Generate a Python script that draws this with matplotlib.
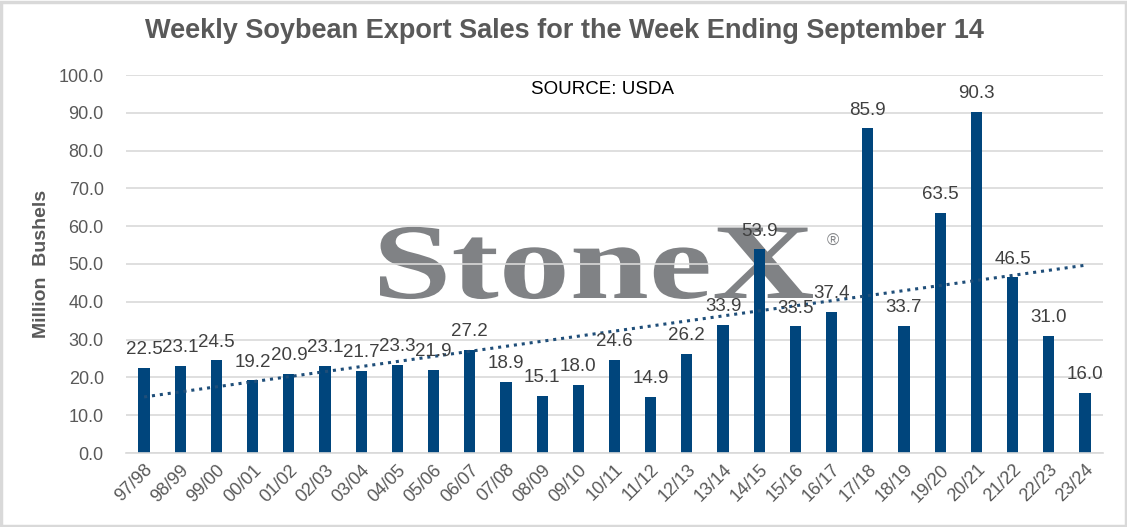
import numpy as np
import matplotlib
matplotlib.use('Agg')
import matplotlib.pyplot as plt
from matplotlib.textpath import TextPath
from matplotlib.patches import PathPatch, Rectangle
from matplotlib.font_manager import FontProperties
from matplotlib.transforms import Affine2D

plt.rcParams['font.family'] = ['Liberation Sans', 'DejaVu Sans']

seasons = ['97/98', '98/99', '99/00', '00/01', '01/02', '02/03', '03/04', '04/05', '05/06',
           '06/07', '07/08', '08/09', '09/10', '10/11', '11/12', '12/13', '13/14', '14/15',
           '15/16', '16/17', '17/18', '18/19', '19/20', '20/21', '21/22', '22/23', '23/24']
sales = [22.5, 23.1, 24.5, 19.2, 20.9, 23.1, 21.7, 23.3, 21.9, 27.2, 18.9, 15.1, 18.0, 24.6,
         14.9, 26.2, 33.9, 53.9, 33.5, 37.4, 85.9, 33.7, 63.5, 90.3, 46.5, 31.0, 16.0]
yticks = np.arange(0, 101, 10)

BAR = '#00457C'
GREY_TXT = '#595959'
GRID = '#D9D9D9'
W, H = 1127, 527

fig = plt.figure(figsize=(W / 100, H / 100), dpi=100)
ax = fig.add_axes([126 / W, 1 - 453 / H, 977 / W, 378 / H])

x = np.arange(len(seasons))
ax.bar(x, sales, width=0.31, color=BAR, zorder=2)
for xi, v in zip(x, sales):
    ax.annotate('%.1f' % v, (xi, v), xytext=(0, 7), textcoords='offset points',
                ha='center', va='bottom', fontsize=13.5, color='#404040', zorder=4)

# linear trend line
k, b = np.polyfit(x, sales, 1)
ax.plot(x, k * x + b, ls=(0, (1, 1.6)), lw=2.2, color='#1F4E79', zorder=3)

ax.set_xlim(-0.5, len(seasons) - 0.5)
ax.set_ylim(0, 100)
ax.set_yticks(yticks)
ax.set_yticklabels(['%.1f' % t for t in yticks])
ax.set_xticks(x)
ax.set_xticklabels(seasons, rotation=45, ha='right', rotation_mode='anchor')
ax.tick_params(axis='both', length=0, labelsize=13, labelcolor=GREY_TXT)
ax.tick_params(axis='x', pad=6)
ax.tick_params(axis='y', pad=16)
ax.set_axisbelow(True)
ax.yaxis.grid(True, color=GRID, lw=1.2)
for s in ['left', 'right', 'top']:
    ax.spines[s].set_visible(False)
ax.spines['bottom'].set_color(GRID)
ax.spines['bottom'].set_linewidth(1.2)
ax.set_ylabel('Million  Bushels', fontsize=14, fontweight='bold', color=GREY_TXT, labelpad=6)

# StoneX watermark (scaled text path, in pixel coordinates)
tp = TextPath((0, 0), 'StoneX', size=1,
              prop=FontProperties(family='Liberation Serif', weight='bold'))
ext = tp.get_extents()
sx = 433 / ext.width
sy = 71 / 0.66
tr = (Affine2D().translate(-ext.x0, 0).scale(sx / 100, sy / 100)
      .translate(380 / 100, (H - 298) / 100) + fig.dpi_scale_trans)
ax.add_patch(PathPatch(tp, transform=tr, facecolor='#808285', edgecolor='none',
                       zorder=0.4, clip_on=False))
fig.text(833 / W, 1 - 241 / H, '\u00ae', fontsize=12, color='#808285',
         ha='center', va='center', zorder=0.4)

fig.text(603 / W, 1 - 90 / H, 'SOURCE: USDA', fontsize=13.5, color='black',
         ha='center', va='center')
fig.text(564 / W, 1 - 31 / H, 'Weekly Soybean Export Sales for the Week Ending September 14',
         fontsize=19.5, fontweight='bold', color=GREY_TXT, ha='center', va='center')

fig.patches.append(Rectangle((1 / W, 1 / H), 1 - 2.5 / W, 1 - 2.5 / H,
                             transform=fig.transFigure, fill=False, edgecolor=GRID, lw=2.5))

fig.savefig('out.png', dpi=100)
